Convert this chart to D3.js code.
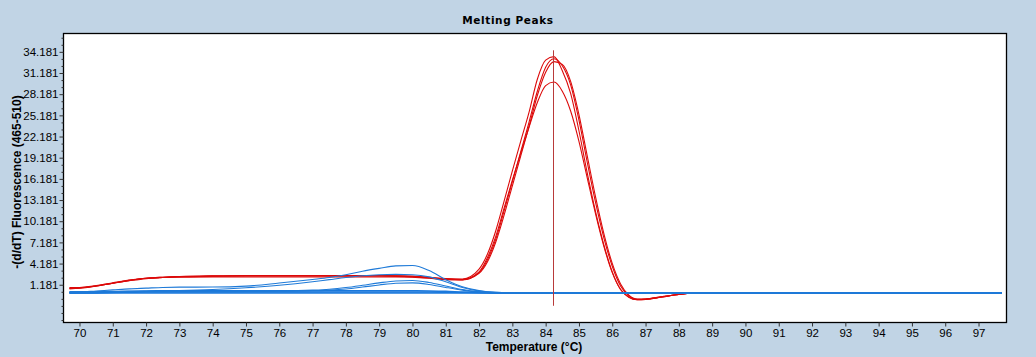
<!DOCTYPE html>
<html><head><meta charset="utf-8">
<script src="https://cdn.jsdelivr.net/npm/d3@7"></script>
<style>
html,body{margin:0;padding:0;background:#c1d4e5;}
svg{display:block;}
</style></head><body>
<svg id="chart" width="1036" height="357"></svg>
<script>
// ---- data ----
const chartTitle = "Melting Peaks";
const xTitle = "Temperature (°C)";
const yTitle = "-(d/dT) Fluorescence (465-510)";

const xTicks = [70,71,72,73,74,75,76,77,78,79,80,81,82,83,84,85,86,87,88,89,90,91,92,93,94,95,96,97];
const yTicks = [1.181,4.181,7.181,10.181,13.181,16.181,19.181,22.181,25.181,28.181,31.181,34.181];
const yMinorTicks = [-3.819,-2.819,-1.819,-0.819,0.181,2.181,3.181,5.181,6.181,8.181,9.181,11.181,12.181,14.181,15.181,17.181,18.181,20.181,21.181,23.181,24.181,26.181,27.181,29.181,30.181,32.181,33.181,35.181,36.181];

const cursorTemp = 84.22;
const cursorRange = [-1.8, 34.4];

const redTemps = [69.7,70,70.5,71,71.5,72,72.5,73,74,75,76,77,77.5,78,78.5,79,79.5,80,80.5,81,81.5,82,82.25,82.5,82.75,83,83.25,83.5,83.75,84,84.25,84.5,84.75,85,85.25,85.5,85.75,86,86.25,86.5,86.75,87,87.5,88,88.5,90,97.7];
const red1 = [0.6,0.7,1.0,1.4,1.8,2.1,2.25,2.35,2.45,2.5,2.5,2.5,2.5,2.5,2.5,2.5,2.45,2.4,2.25,2.05,2.0,3.4,5.5,8.8,13.0,17.3,21.5,25.6,30.3,33.0,33.5,31.5,28.3,23.0,17.0,11.5,6.8,3.0,0.5,-0.6,-0.95,-0.9,-0.55,-0.2,0,0,0];
const red2 = [0.8,0.8,1.05,1.45,1.85,2.1,2.2,2.25,2.3,2.3,2.3,2.3,2.3,2.3,2.3,2.3,2.3,2.25,2.1,1.9,1.85,2.9,4.7,7.6,11.6,15.8,20.0,24.2,28.6,32.0,33.2,32.2,29.5,24.5,18.5,12.8,7.8,3.8,1.0,-0.4,-0.9,-0.85,-0.5,-0.2,0,0,0];
const red3 = [0.7,0.75,1.0,1.4,1.8,2.1,2.25,2.35,2.4,2.45,2.45,2.45,2.45,2.45,2.45,2.45,2.4,2.35,2.2,2.0,1.9,2.8,4.4,7.2,11.0,15.2,19.4,23.6,28.0,31.3,32.8,32.4,30.0,25.3,19.4,13.6,8.4,4.2,1.3,-0.3,-0.85,-0.85,-0.5,-0.2,0,0,0];
const red4 = [0.65,0.7,1.0,1.4,1.75,2.05,2.2,2.3,2.4,2.45,2.45,2.45,2.45,2.45,2.45,2.45,2.4,2.3,2.15,1.95,1.9,3.0,5.0,8.0,12.0,16.0,19.8,23.5,27.0,29.4,29.9,28.6,25.8,21.5,16.3,11.2,6.6,2.9,0.5,-0.6,-0.95,-0.9,-0.55,-0.2,0,0,0];

const blueTemps = [69.7,70,70.5,71,71.5,72,72.5,73,74,75,76,77,77.5,78,78.5,79,79.5,80,80.5,81,81.5,82,82.5,83,85,90,97.7];
const blueA = [0.1,0.15,0.3,0.45,0.6,0.7,0.8,0.84,0.85,0.98,1.42,1.92,2.2,2.6,3.1,3.5,3.85,3.9,3.2,1.9,0.9,0.35,0.1,0.05,0,0,0];
const blueD = [0.05,0.05,0.1,0.15,0.2,0.25,0.3,0.35,0.5,0.75,1.1,1.6,1.9,2.2,2.45,2.6,2.65,2.6,2.3,1.6,0.8,0.3,0.1,0.05,0,0,0];
const blueB = [0.2,0.2,0.22,0.25,0.25,0.25,0.25,0.25,0.25,0.27,0.3,0.42,0.55,0.78,1.1,1.45,1.72,1.78,1.5,1.0,0.5,0.2,0.05,0.02,0,0,0];
const blueC = [0.15,0.15,0.18,0.2,0.2,0.2,0.2,0.2,0.2,0.22,0.25,0.32,0.42,0.58,0.85,1.15,1.4,1.45,1.22,0.8,0.42,0.15,0.05,0.02,0,0,0];
const blueE = [0,0,0.02,0.08,0.12,0.15,0.15,0.15,0.15,0.15,0.15,0.15,0.15,0.15,0.15,0.15,0.15,0.15,0.15,0.12,0.08,0.04,0.02,0,0,0,0];
const blueF = [0.02,0.05,0.1,0.18,0.25,0.3,0.32,0.32,0.32,0.32,0.32,0.32,0.32,0.32,0.32,0.32,0.32,0.32,0.3,0.25,0.15,0.08,0.03,0,0,0,0];
const blueG = [0,0,0,0,0,0,0,0,0,0,0,0,0,0,0,0,0,0,0,0,0,0,0,0,0,0,0];

// ---- layout ----
const svg = d3.select("#chart");
const plot = {left: 63.5, top: 33.5, right: 1006.5, bottom: 322.5};
const x = d3.scaleLinear().domain([69.52, 97.84]).range([plot.left, plot.right]);
const y = d3.scaleLinear().domain([-4.17, 36.78]).range([plot.bottom, plot.top]);

svg.append("rect").attr("width",1036).attr("height",357).attr("fill","#c1d4e5");
svg.append("rect").attr("x",plot.left).attr("y",plot.top)
  .attr("width",plot.right-plot.left).attr("height",plot.bottom-plot.top)
  .attr("fill","#ffffff");

svg.append("defs").append("clipPath").attr("id","clip")
  .append("rect").attr("x",plot.left).attr("y",plot.top)
  .attr("width",plot.right-plot.left).attr("height",plot.bottom-plot.top);

const g = svg.append("g").attr("clip-path","url(#clip)");
const line = d3.line().x(d=>x(d[0])).y(d=>y(d[1])).curve(d3.curveMonotoneX);

const redSeries = [red1, red2, red3, red4];
const blueBumps = [blueA, blueD, blueB, blueC];
const blueBase = [blueE, blueF, blueG];

redSeries.forEach(s=>{
  g.append("path").datum(redTemps.map((t,i)=>[t,s[i]]))
    .attr("d",line).attr("fill","none").attr("stroke","#dc0a0a").attr("stroke-width",1.1);
});
blueBase.forEach(s=>{
  g.append("path").datum(blueTemps.map((t,i)=>[t,s[i]]))
    .attr("d",line).attr("fill","none").attr("stroke","#1a78dc").attr("stroke-width",1.6);
});
blueBumps.forEach(s=>{
  g.append("path").datum(blueTemps.map((t,i)=>[t,s[i]]))
    .attr("d",line).attr("fill","none").attr("stroke","#1e7ad8").attr("stroke-width",1.1);
});

g.append("line")
  .attr("x1",Math.round(x(cursorTemp))+0.5).attr("x2",Math.round(x(cursorTemp))+0.5)
  .attr("y1",y(cursorRange[1])).attr("y2",y(cursorRange[0]))
  .attr("stroke","#b83a3a").attr("stroke-width",1);

// border
svg.append("rect").attr("x",plot.left).attr("y",plot.top)
  .attr("width",plot.right-plot.left).attr("height",plot.bottom-plot.top)
  .attr("fill","none").attr("stroke","#000").attr("stroke-width",1.3);

// axes
const fmt = d3.format(".3f");
const yAxis = svg.append("g").attr("transform",`translate(${plot.left},0)`)
  .call(d3.axisLeft(y).tickValues(yTicks).tickFormat(fmt).tickSize(4).tickPadding(1));
const yMinor = svg.append("g").attr("transform",`translate(${plot.left},0)`)
  .call(d3.axisLeft(y).tickValues(yMinorTicks).tickFormat("").tickSize(2));
const xAxis = svg.append("g").attr("transform",`translate(0,${plot.bottom})`)
  .call(d3.axisBottom(x).tickValues(xTicks).tickFormat(d3.format("d")).tickSize(4).tickPadding(2));

[yAxis, yMinor, xAxis].forEach(a=>{
  a.select(".domain").remove();
  a.selectAll(".tick line").attr("stroke","#333");
  a.selectAll("text").attr("fill","#000")
    .style("font-family","'Liberation Sans', Arial, sans-serif").style("font-size","11.5px");
});

// titles
svg.append("text").attr("x",508).attr("y",24).attr("text-anchor","middle")
  .style("font-family","'DejaVu Sans', Verdana, sans-serif").style("font-weight","bold")
  .style("font-size","10.5px").style("letter-spacing","0.6px").attr("fill","#000")
  .text(chartTitle);
svg.append("text").attr("x",534).attr("y",351).attr("text-anchor","middle")
  .style("font-family","'Liberation Sans', Arial, sans-serif").style("font-weight","bold")
  .style("font-size","12px").attr("fill","#000").text(xTitle);
svg.append("text").attr("transform","translate(21,182) rotate(-90)").attr("text-anchor","middle")
  .style("font-family","'Liberation Sans', Arial, sans-serif").style("font-weight","bold")
  .style("font-size","12px").attr("fill","#000").text(yTitle);
</script>
</body></html>
